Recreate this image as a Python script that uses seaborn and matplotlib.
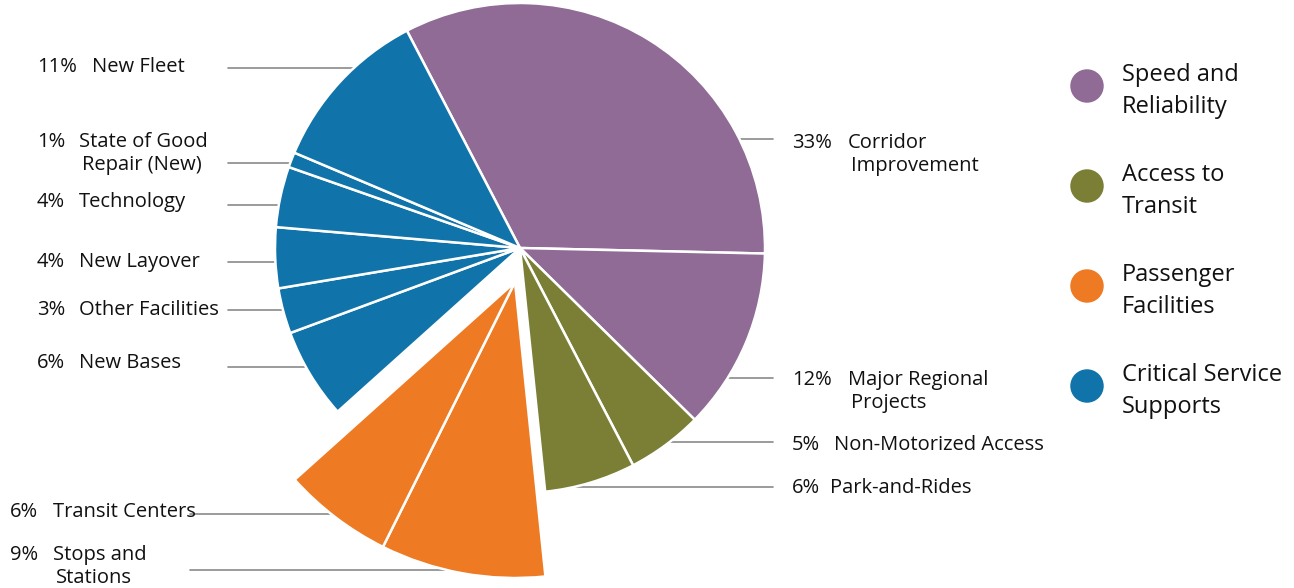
import numpy as np
import matplotlib.pyplot as plt
import seaborn as sns

# slices, clockwise from the top of the pie
names = ["Corridor\nImprovement", "Major Regional\nProjects", "Non-Motorized Access",
         "Park-and-Rides", "Stops and\nStations", "Transit Centers", "New Bases",
         "Other Facilities", "New Layover", "Technology", "State of Good\nRepair (New)",
         "New Fleet"]
shares = [33, 12, 5, 6, 9, 6, 6, 3, 4, 4, 1, 11]
groups = ["Speed and\nReliability"] * 2 + ["Access to\nTransit"] * 2 + \
         ["Passenger\nFacilities"] * 2 + ["Critical Service\nSupports"] * 6

group_names = ["Speed and\nReliability", "Access to\nTransit",
               "Passenger\nFacilities", "Critical Service\nSupports"]
group_colors = ["#8f6b96", "#7a7f35", "#ee7a24", "#1073a9"]

W, H = 1294, 588
CX, CY, R = 520, 248, 245          # main pie (image px)
PX, PY, PR = 515, 282, 296         # pulled-out passenger facilities wedges

# label layout: (side, pct x, first line y, leader y, leader outer x)
label_layout = [
    ("r", 792, 143, 139, 773),
    ("r", 792, 380, 378, 773),
    ("r", 792, 445, 442, 773),
    ("r", 792, 488, 487, 773),
    ("l", 10, 555, 570, 190),
    ("l", 10, 512, 514, 190),
    ("l", 37, 363, 367, 228),
    ("l", 37, 310, 310, 228),
    ("l", 37, 262, 262, 228),
    ("l", 37, 202, 205, 228),
    ("l", 37, 142, 163, 228),
    ("l", 37, 67, 68, 228),
]
name_x = {"r2": 848, "r1": 834, "l2": 92, "l1": 79, "lb": 53}

sns.set_theme(style="white")
plt.rcParams["font.family"] = ["Open Sans", "DejaVu Sans"]

fig = plt.figure(figsize=(W / 100, H / 100), dpi=100)
ax = fig.add_axes([0, 0, 1, 1])

palette = dict(zip(group_names, group_colors))
slice_colors = [palette[g] for g in groups]

wedges, _ = ax.pie(shares, colors=slice_colors, startangle=117.5, counterclock=False,
                   radius=R, center=(CX, H - CY),
                   wedgeprops=dict(edgecolor="white", linewidth=1.8))
for w, g in zip(wedges, groups):
    if g == "Passenger\nFacilities":
        w.set_center((PX, H - PY))
        w.set_radius(PR)

ax.set_xlim(0, W)
ax.set_ylim(0, H)
ax.set_aspect("equal")
ax.axis("off")

fs = 14.5
txt_col = "#111111"
for name, pct, g, (side, px, y0, ly, lx) in zip(names, shares, groups, label_layout):
    if g == "Passenger\nFacilities":
        cx, cy, r = PX, PY, PR
    else:
        cx, cy, r = CX, CY, R
    half = np.sqrt(max(r ** 2 - (ly - cy) ** 2, 0))
    edge = cx + half if side == "r" else cx - half
    ax.plot([lx, edge], [H - ly, H - ly], color="#8a8a8a", lw=1.2, zorder=0)

    ax.text(px, H - y0, f"{pct}%", fontsize=fs, color=txt_col, va="center", ha="left")
    if side == "r":
        nx = name_x["r2"] if pct >= 10 else name_x["r1"]
        if name == "Park-and-Rides":
            nx = 830
    elif px == 10:
        nx = name_x["lb"]
    else:
        nx = name_x["l2"] if pct >= 10 else name_x["l1"]
    for i, line in enumerate(name.split("\n")):
        ax.text(nx + (3 if i else 0), H - (y0 + 23 * i), line, fontsize=fs,
                color=txt_col, va="center", ha="left")

# legend
leg_y = [86, 186, 286, 386]
for gname, col, yy in zip(group_names, group_colors, leg_y):
    ax.scatter([1087], [H - yy], s=580, color=col, edgecolor="none")
    for i, line in enumerate(gname.split("\n")):
        ax.text(1122, H - (yy - 11 + 32 * i), line, fontsize=17,
                color=txt_col, va="center", ha="left")

fig.savefig("out.png", dpi=100)
